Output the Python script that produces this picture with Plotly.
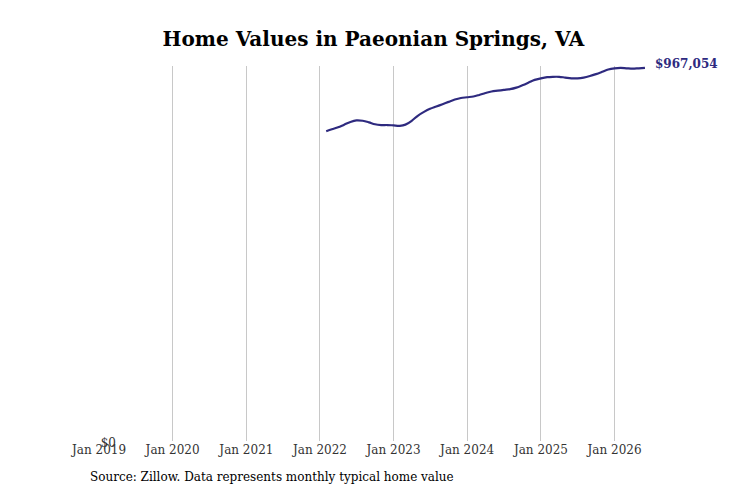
import pandas as pd
import plotly.graph_objects as go

dates = pd.date_range("2022-02-01", periods=53, freq="MS")
values = [803, 808, 813, 820, 827, 831, 830, 826, 821, 819, 819, 818, 817,
          820, 830, 843, 853, 861, 867, 873, 879, 885, 889, 891, 893, 897,
          902, 906, 908, 910, 912, 916, 922, 929, 936, 940, 943, 944, 944,
          942, 940, 940, 942, 946, 951, 957, 963, 966, 967, 966, 965, 966,
          967.054]
values = [v * 1000 for v in values]
tick_dates = pd.date_range("2019-01-01", periods=8, freq="YS")
tick_labels = [d.strftime("Jan %Y") for d in tick_dates]

fig = go.Figure()
fig.add_trace(go.Scatter(x=dates, y=values, mode="lines",
                         line=dict(color="#2e2a7f", width=2.2, shape="spline")))
fig.add_annotation(x=dates[-1], y=values[-1], text="<b>$967,054</b>", showarrow=False,
                   xanchor="left", xshift=8, yshift=4,
                   font=dict(family="DejaVu Serif", size=12, color="#2e2a7f"))
fig.add_annotation(x=0, y=-0.12, xref="paper", yref="paper", xanchor="left",
                   xshift=-11, showarrow=False,
                   text="Source: Zillow. Data represents monthly typical home value",
                   font=dict(family="DejaVu Serif", size=12, color="black"))

fig.update_layout(
    width=731, height=487, plot_bgcolor="white", paper_bgcolor="white",
    showlegend=False,
    margin=dict(l=91, r=88, t=58, b=54),
    title=dict(text="<b>Home Values in Paeonian Springs, VA</b>", x=0.5, y=0.95,
               xanchor="center", font=dict(family="DejaVu Serif", size=20, color="black")),
    font=dict(family="DejaVu Serif", size=12, color="#333"),
    xaxis=dict(range=["2019-01-01", "2026-07-01"], tickvals=tick_dates,
               ticktext=tick_labels, showgrid=True, gridcolor="#c8c8c8",
               zeroline=False, showline=False),
    yaxis=dict(range=[0, 972000], tickvals=[0], ticktext=["$0"], showgrid=False,
               zeroline=False, showline=False, ticklabelstandoff=-18,
               ticklabelshift=2),
)
fig.write_html("out.html")
